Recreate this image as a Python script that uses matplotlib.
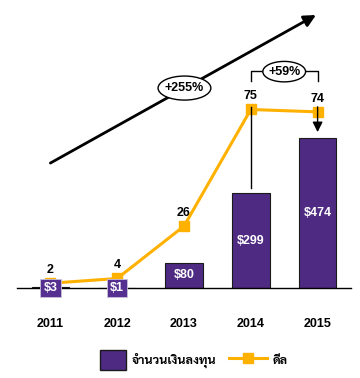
import matplotlib
matplotlib.use("Agg")
import matplotlib.pyplot as plt
from matplotlib.patches import Ellipse, Rectangle, Patch
from matplotlib.lines import Line2D
from matplotlib.legend_handler import HandlerPatch

years = ["2011", "2012", "2013", "2014", "2015"]
investment = [3, 1, 80, 299, 474]          # US$ (bars)
investment_labels = ["$3", "$1", "$80", "$299", "$474"]
deals = [2, 4, 26, 75, 74]                 # number of deals (line)
legend_labels = ["จำนวนเงินลงทุน", "ดีล"]

PURPLE = "#4E2A82"
ORANGE = "#FFB100"
LATIN = "Liberation Sans"
THAI = ["Sarabun", "Liberation Sans"]

plt.rcParams["font.family"] = [LATIN, "DejaVu Sans"]

fig = plt.figure(figsize=(3.6, 3.78), dpi=100)
W, H = 360, 378
ax = fig.add_axes([17 / W, 90 / H, 334 / W, 278 / H])
ax2 = ax.twinx()

x = list(range(len(years)))
bars = ax.bar(x, investment, width=0.56, color=PURPLE, edgecolor="#1a1a1a",
              linewidth=0.8, zorder=2)
ax.set_xlim(-0.5, 4.5)
ax.set_ylim(0, 877)
ax2.set_ylim(0, 116.8)

for a in (ax, ax2):
    for s in ("top", "left", "right"):
        a.spines[s].set_visible(False)
    a.set_yticks([])
ax2.spines["bottom"].set_visible(False)
ax.spines["bottom"].set_linewidth(1.0)
ax.spines["bottom"].set_color("black")
ax.set_xticks([])

FS = 9

# bar labels
for i, (v, lab) in enumerate(zip(investment, investment_labels)):
    if v > 40:
        ax.text(i, v / 2, lab, ha="center", va="center", color="white",
                fontsize=FS, fontweight="bold", zorder=5)
    else:
        ax2.text(i, 0, lab, ha="center", va="center", color="white",
                 fontsize=FS, fontweight="bold", zorder=8,
                 transform=ax.transData,
                 bbox=dict(boxstyle="square,pad=0.25", facecolor="#553090",
                           edgecolor="#c8c0d8", linewidth=0.6))

# year labels
for i, y in enumerate(years):
    ax.annotate(y, xy=(i, 0), xytext=(0, -26), textcoords="offset points",
                ha="center", va="center", fontsize=FS, fontweight="bold")

# deals line
ax2.plot(x, deals, color=ORANGE, linewidth=2.2, marker="s", markersize=6.5,
         markeredgecolor=ORANGE, zorder=4)
for i, d in enumerate(deals):
    ax2.annotate(str(d), xy=(i, d), xytext=(0, 9.5), textcoords="offset points",
                 ha="center", va="center", fontsize=FS, fontweight="bold")

# big trend arrow with +255% ellipse
ax2.annotate("", xy=(3.976, 114.7), xytext=(0.0, 52.5),
             arrowprops=dict(arrowstyle="-|>,head_length=0.7,head_width=0.35",
                             color="black", linewidth=2.0, shrinkA=0, shrinkB=0),
             annotation_clip=False)
ax2.add_patch(Ellipse((2.007, 84.0), 0.79, 10.1, facecolor="white",
                      edgecolor="black", linewidth=1.0, zorder=6, clip_on=False))
ax2.text(2.007, 84.0, "+255%", ha="center", va="center", fontsize=FS,
         fontweight="bold", zorder=7)

# bracket with +59%
ax2.plot([3.0, 3.0, 4.0, 4.0], [87.0, 91.2, 91.2, 87.0], color="black",
         linewidth=1.0, zorder=5, clip_on=False)
ax2.add_patch(Ellipse((3.5, 90.9), 0.64, 8.6, facecolor="white",
                      edgecolor="black", linewidth=1.0, zorder=6, clip_on=False))
ax2.text(3.5, 90.9, "+59%", ha="center", va="center", fontsize=FS,
         fontweight="bold", zorder=7)

# connectors
ax2.plot([3.0, 3.0], [76.1, 42.0], color="black", linewidth=1.0, zorder=5)
ax2.annotate("", xy=(4.0, 65.5), xytext=(4.0, 76.1),
             arrowprops=dict(arrowstyle="-|>,head_length=0.6,head_width=0.3",
                             color="black", linewidth=1.0, shrinkA=0, shrinkB=0),
             zorder=5)


def make_rect(legend, orig_handle, xdescent, ydescent, width, height, fontsize):
    w, h = 18.7, 14.4
    return Rectangle((width - w - xdescent, -ydescent + (height - h) / 2), w, h)


h_bar = Patch(facecolor=PURPLE, edgecolor="#1a1a1a", linewidth=1.0)
h_line = Line2D([], [], color=ORANGE, linewidth=2.2, marker="s", markersize=6.5)
leg = fig.legend([h_bar, h_line], legend_labels, loc="center",
                 bbox_to_anchor=(187.5 / W, (H - 360) / H), ncol=2,
                 frameon=False, handlelength=3.1, handleheight=1.6,
                 handletextpad=0.4, columnspacing=1.0, borderpad=0,
                 numpoints=1,
                 handler_map={Patch: HandlerPatch(patch_func=make_rect)},
                 prop={"family": THAI, "weight": "bold", "size": 9})

fig.savefig("out.png", dpi=100)
